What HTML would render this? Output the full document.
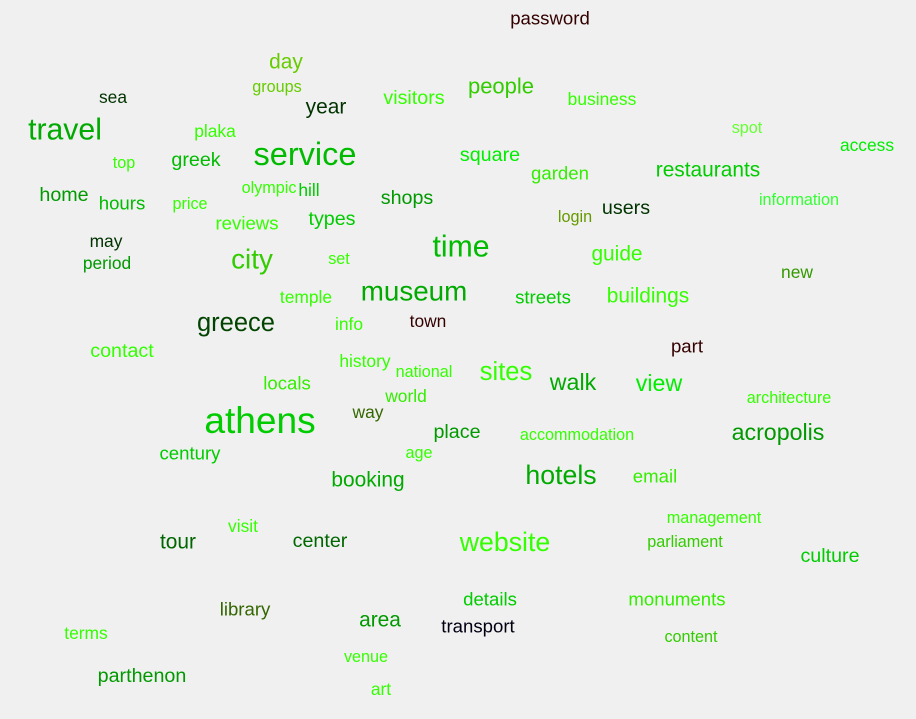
<!DOCTYPE html>
<html><head><meta charset="utf-8"><style>
html,body{margin:0;padding:0;background:#f0f0f0;}
svg{display:block;}
text{font-family:"Liberation Sans",Arial,sans-serif;}
</style></head><body>
<svg id="cloud" width="916" height="719" viewBox="0 0 916 719"></svg>
<script>
const words=["password","day","groups","sea","year","visitors","people","business","travel","plaka","service","spot","access","top","greek","square","garden","restaurants","olympic","hill","home","hours","price","shops","information","reviews","types","login","users","may","time","city","set","guide","period","new","temple","museum","streets","buildings","greece","info","town","contact","part","history","national","sites","walk","view","locals","world","architecture","athens","way","place","accommodation","acropolis","century","age","booking","hotels","email","visit","management","tour","center","website","parliament","culture","library","details","monuments","area","terms","transport","content","venue","parthenon","art"];
const xs=[550,286,277,113,326,414,501,602,65,215,305,747,867,124,196,490,560,708,269,309,64,122,190,407,799,247,332,575,626,106,461,252,339,617,107,797,306,414,543,648,236,349,428,122,687,365,424,506,573,659,287,406,789,260,368,457,577,778,190,419,368,561,655,243,714,178,320,505,685,830,245,490,677,380,86,478,691,366,142,381];
const ys=[18,62,87,97,107,98,86,99,130,131,154,128,145,163,160,155,173,170,188,190,195,203,204,198,200,223,219,217,208,241,247,259,259,254,263,272,297,291,297,296,323,324,321,351,346,361,372,372,382,383,383,396,398,420,412,432,435,432,453,453,480,475,476,526,518,542,541,542,542,556,609,599,599,620,633,626,637,657,676,689];
const sizes=[16,18,14,15,18,17,19,15,26,15,28,14,15,14,17,17,16,18,14,15,17,16,14,17,14,16,17,14,17,15,26,24,14,18,15,15,15,24,16,18,22,15,15,17,16,15,14,22,20,20,16,15,14,32,15,17,14,20,16,14,18,23,16,15,14,18,17,23,14,17,16,16,16,18,15,16,14,14,17,15];
const colors=["#330000","#66cc00","#66cc00","#003300","#003300","#33ff00","#33cc00","#33ff00","#00aa00","#33ff00","#00bb00","#66ff33","#00ee00","#33ff00","#00bb00","#00ee00","#33ee00","#00cc00","#33ff00","#00cc00","#009900","#00bb00","#33ff00","#009900","#33ff33","#33ff00","#00cc00","#669900","#003300","#003300","#00bb00","#33cc00","#33ff00","#33ff00","#009900","#339900","#33ff00","#00aa00","#00cc00","#33ff00","#004400","#33ff00","#330000","#33ff00","#330000","#33ff00","#33ff00","#33ff00","#00aa00","#00ee00","#33ee00","#33ee00","#33ff00","#00cc00","#336600","#009900","#33ff00","#009900","#00cc00","#33ff00","#00aa00","#00aa00","#33ee00","#33ff00","#33ff00","#006600","#006600","#33ff00","#33cc00","#00cc00","#336600","#00cc00","#33ee00","#009900","#33ff00","#000011","#33cc00","#33ff00","#009900","#33ff00"];
const svg=document.getElementById('cloud');
const NS="http://www.w3.org/2000/svg";
for(let i=0;i<words.length;i++){
  const t=document.createElementNS(NS,'text');
  t.setAttribute('x',xs[i]);
  t.setAttribute('y',ys[i]);
  t.setAttribute('text-anchor','middle');
  t.setAttribute('dominant-baseline','central');
  t.setAttribute('font-size',(sizes[i]*1.16).toFixed(1));
  t.setAttribute('fill',colors[i]);
  
  
  t.textContent=words[i];
  svg.appendChild(t);
}
</script>
</body></html>
